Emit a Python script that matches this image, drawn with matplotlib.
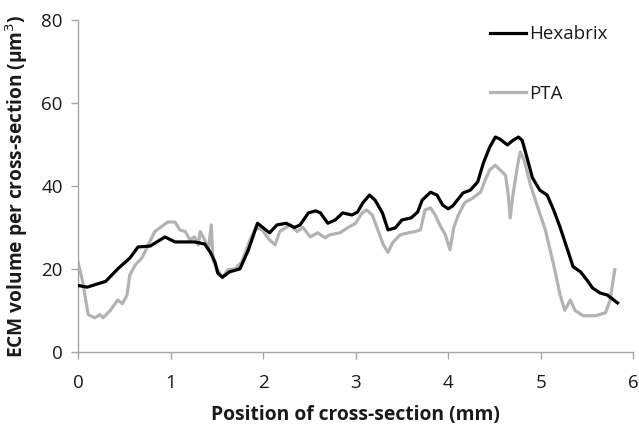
import matplotlib
matplotlib.use("Agg")
import matplotlib.pyplot as plt

hexabrix_x = [0.00, 0.10, 0.30, 0.43, 0.56, 0.65, 0.78, 0.94, 1.05, 1.26, 1.37, 1.43, 1.48, 1.51,
              1.56, 1.64, 1.75, 1.84, 1.94, 2.07, 2.15, 2.25, 2.34, 2.40, 2.49, 2.57, 2.62, 2.70,
              2.78, 2.86, 2.96, 3.02, 3.08, 3.15, 3.21, 3.29, 3.35, 3.43, 3.50, 3.60, 3.67, 3.72,
              3.81, 3.88, 3.94, 4.00, 4.05, 4.16, 4.24, 4.32, 4.38, 4.45, 4.51, 4.56, 4.64, 4.70,
              4.76, 4.80, 4.85, 4.91, 4.99, 5.07, 5.14, 5.21, 5.29, 5.35, 5.43, 5.50, 5.56, 5.64,
              5.72, 5.83]
hexabrix_y = [16.0, 15.6, 17.0, 20.0, 22.6, 25.3, 25.5, 27.7, 26.5, 26.5, 26.0, 24.0, 21.7, 19.0,
              18.0, 19.3, 20.0, 24.5, 31.0, 28.7, 30.6, 31.0, 30.0, 30.6, 33.5, 34.0, 33.5, 31.0,
              31.8, 33.5, 33.0, 33.7, 36.0, 37.8, 36.6, 33.5, 29.4, 29.9, 31.8, 32.3, 33.7, 36.6,
              38.5, 37.8, 35.4, 34.5, 35.2, 38.3, 39.0, 41.0, 45.5, 49.4, 51.8, 51.3, 49.9, 51.0,
              51.8, 51.0, 47.0, 42.0, 39.0, 37.8, 34.2, 30.0, 24.6, 20.5, 19.3, 17.3, 15.4, 14.2,
              13.7, 11.8]

pta_x = [0.00, 0.05, 0.11, 0.18, 0.24, 0.27, 0.35, 0.43, 0.48, 0.53, 0.56, 0.62, 0.69, 0.76,
         0.83, 0.89, 0.97, 1.05, 1.10, 1.16, 1.21, 1.26, 1.30, 1.32, 1.37, 1.41, 1.44, 1.46,
         1.51, 1.56, 1.62, 1.70, 1.77, 1.86, 1.92, 1.99, 2.07, 2.13, 2.18, 2.29, 2.37, 2.43,
         2.51, 2.59, 2.67, 2.72, 2.83, 2.92, 3.00, 3.07, 3.12, 3.18, 3.24, 3.30, 3.35, 3.40,
         3.48, 3.57, 3.64, 3.70, 3.75, 3.81, 3.86, 3.91, 3.97, 4.02, 4.06, 4.11, 4.18, 4.26,
         4.35, 4.40, 4.45, 4.51, 4.56, 4.62, 4.65, 4.67, 4.70, 4.75, 4.78, 4.82, 4.89, 4.96,
         5.05, 5.14, 5.21, 5.26, 5.32, 5.37, 5.46, 5.59, 5.70, 5.75, 5.80]
pta_y = [21.7, 17.0, 9.0, 8.2, 9.0, 8.2, 10.0, 12.5, 11.6, 13.7, 18.5, 21.0, 22.6, 25.8,
         29.0, 30.0, 31.3, 31.3, 29.4, 29.0, 27.0, 27.7, 25.8, 29.0, 27.0, 24.6, 30.6, 22.0,
         19.8, 17.8, 19.8, 20.0, 21.7, 27.0, 29.9, 29.4, 27.0, 25.8, 29.0, 30.6, 29.0, 30.0,
         27.7, 28.7, 27.5, 28.2, 28.7, 30.0, 31.0, 33.5, 34.2, 33.0, 29.4, 25.8, 24.0, 26.3,
         28.2, 28.7, 29.0, 29.4, 34.2, 34.7, 33.0, 30.6, 28.2, 24.6, 29.9, 33.0, 36.0, 37.0,
         38.5, 41.4, 43.9, 45.0, 43.9, 42.6, 37.8, 32.3, 37.8, 45.0, 48.2, 46.3, 40.2, 35.4,
         29.4, 21.0, 13.7, 10.0, 12.5, 10.0, 8.7, 8.7, 9.4, 12.5, 19.8]

x_ticks = [0, 1, 2, 3, 4, 5, 6]
y_ticks = [0, 20, 40, 60, 80]

plt.rcParams['font.family'] = ['Open Sans', 'DejaVu Sans']

fig = plt.figure(figsize=(6.39, 4.28), dpi=100)
ax = fig.add_axes([0.122, 0.178, 0.869, 0.775])

ax.plot(hexabrix_x, hexabrix_y, color='black', lw=2.3, label='Hexabrix', zorder=3)
ax.plot(pta_x, pta_y, color='#b3b3b3', lw=2.3, label='PTA', zorder=2)

ax.set_xlim(0, 6)
ax.set_ylim(0, 80)
ax.set_xticks(x_ticks)
ax.set_yticks(y_ticks)
for s in ['top', 'right']:
    ax.spines[s].set_visible(False)
for s in ['left', 'bottom']:
    ax.spines[s].set_color('#a6a6a6')
    ax.spines[s].set_linewidth(1.0)
ax.tick_params(axis='both', colors='#a6a6a6', labelcolor='#1a1a1a', labelsize=13.5,
               length=5, width=1.0, direction='out')
ax.tick_params(axis='x', pad=11)
ax.tick_params(axis='y', pad=6)

ax.set_xlabel('Position of cross-section (mm)', fontsize=13.9, fontweight='bold',
              color='#1a1a1a', labelpad=9)
ax.set_ylabel('ECM volume per cross-section (μm$^3$)', fontsize=13.8, fontweight='bold',
              color='#1a1a1a', labelpad=8)

leg = ax.legend(loc='upper left', bbox_to_anchor=(0.712, 1.035), frameon=False,
                fontsize=13.5, handlelength=1.9, handletextpad=0.15, labelspacing=2.2)
for t in leg.get_texts():
    t.set_color('#1a1a1a')

fig.savefig('out.png', dpi=100)
